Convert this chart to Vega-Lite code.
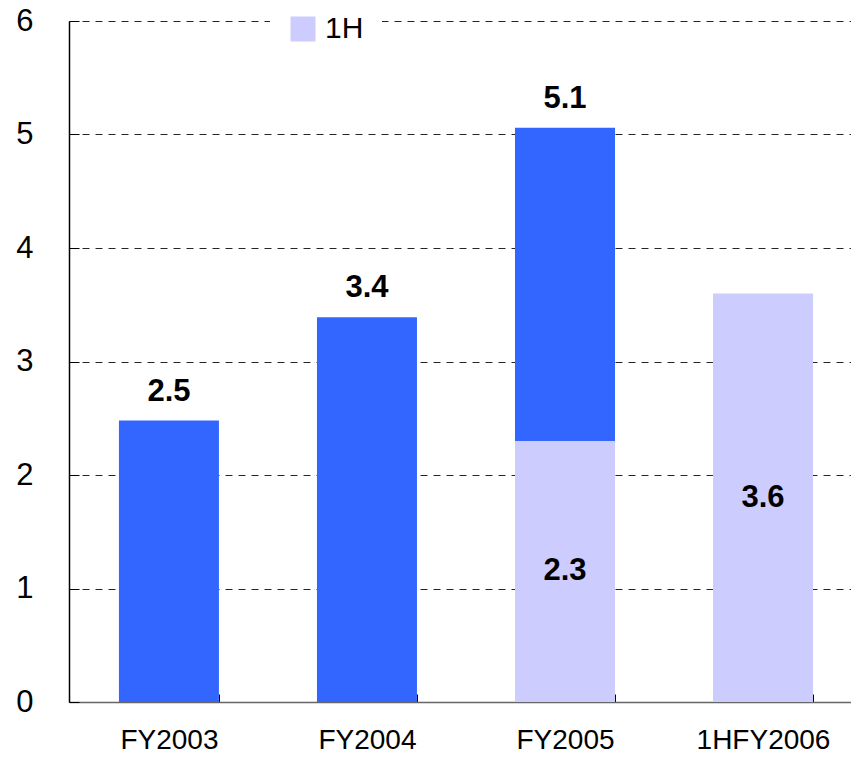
{
  "$schema": "https://vega.github.io/schema/vega-lite/v6.json",
  "autosize": {"type": "none"},
  "width": 782,
  "height": 681,
  "padding": {"left": 69, "top": 21, "right": 0, "bottom": 55},
  "background": "white",
  "config": {
    "view": {"stroke": null},
    "font": "Liberation Sans"
  },
  "data": {
    "values": [
      {"period": "FY2003", "part": "FY", "order": 2, "value": 2.48},
      {"period": "FY2004", "part": "FY", "order": 2, "value": 3.39},
      {"period": "FY2005", "part": "1H", "order": 1, "value": 2.30},
      {"period": "FY2005", "part": "2H", "order": 2, "value": 2.76},
      {"period": "1HFY2006", "part": "1H", "order": 1, "value": 3.60}
    ]
  },
  "layer": [
    {
      "mark": {"type": "bar"},
      "encoding": {
        "x": {
          "field": "period", "type": "nominal",
          "sort": ["FY2003", "FY2004", "FY2005", "1HFY2006"],
          "scale": {"paddingInner": 0.495, "paddingOuter": 0.222, "align": 0.568},
          "axis": {
            "title": null, "labelAngle": 0, "labelFontSize": 28, "labelColor": "black",
            "labelPadding": 32, "domainColor": "#666666", "domainWidth": 1.5,
            "tickBand": "extent", "tickSize": -8, "tickColor": "black", "tickWidth": 1
          }
        },
        "y": {
          "aggregate": "sum", "field": "value", "type": "quantitative",
          "scale": {"domain": [0, 6]},
          "axis": {
            "title": null, "values": [0, 1, 2, 3, 4, 5, 6], "format": "d", "labelFontSize": 31,
            "labelColor": "black", "labelPadding": 46, "tickSize": -10, "tickColor": "black",
            "domainColor": "black", "domainWidth": 1.5,
            "grid": true, "gridColor": "black", "gridDash": [7, 6], "gridWidth": 1, "gridOpacity": 0.85
          }
        },
        "color": {
          "field": "part", "type": "nominal",
          "scale": {"domain": ["1H", "2H", "FY"], "range": ["#CCCCFF", "#3366FF", "#3366FF"]},
          "legend": {
            "values": ["1H"], "title": null, "orient": "none", "legendX": 201, "legendY": -25,
            "symbolType": "square", "symbolSize": 625, "symbolStrokeWidth": 0,
            "labelFontSize": 30, "labelColor": "black", "labelOffset": 7,
            "fillColor": "white", "padding": 18
          }
        },
        "order": {"field": "order", "type": "quantitative"}
      }
    },
    {
      "transform": [
        {"aggregate": [{"op": "sum", "field": "value", "as": "total"}], "groupby": ["period"]},
        {"filter": "datum.period !== '1HFY2006'"}
      ],
      "mark": {"type": "text", "fontSize": 31, "fontWeight": "bold", "color": "black", "baseline": "alphabetic", "dy": -20},
      "encoding": {
        "x": {"field": "period", "type": "nominal", "sort": ["FY2003", "FY2004", "FY2005", "1HFY2006"]},
        "y": {"field": "total", "type": "quantitative"},
        "text": {"field": "total", "type": "quantitative", "format": ".1f"}
      }
    },
    {
      "transform": [
        {"filter": "datum.part === '1H'"},
        {"calculate": "datum.value / 2", "as": "mid"}
      ],
      "mark": {"type": "text", "fontSize": 31, "fontWeight": "bold", "color": "black", "baseline": "middle"},
      "encoding": {
        "x": {"field": "period", "type": "nominal", "sort": ["FY2003", "FY2004", "FY2005", "1HFY2006"]},
        "y": {"field": "mid", "type": "quantitative"},
        "text": {"field": "value", "type": "quantitative", "format": ".1f"}
      }
    }
  ]
}
